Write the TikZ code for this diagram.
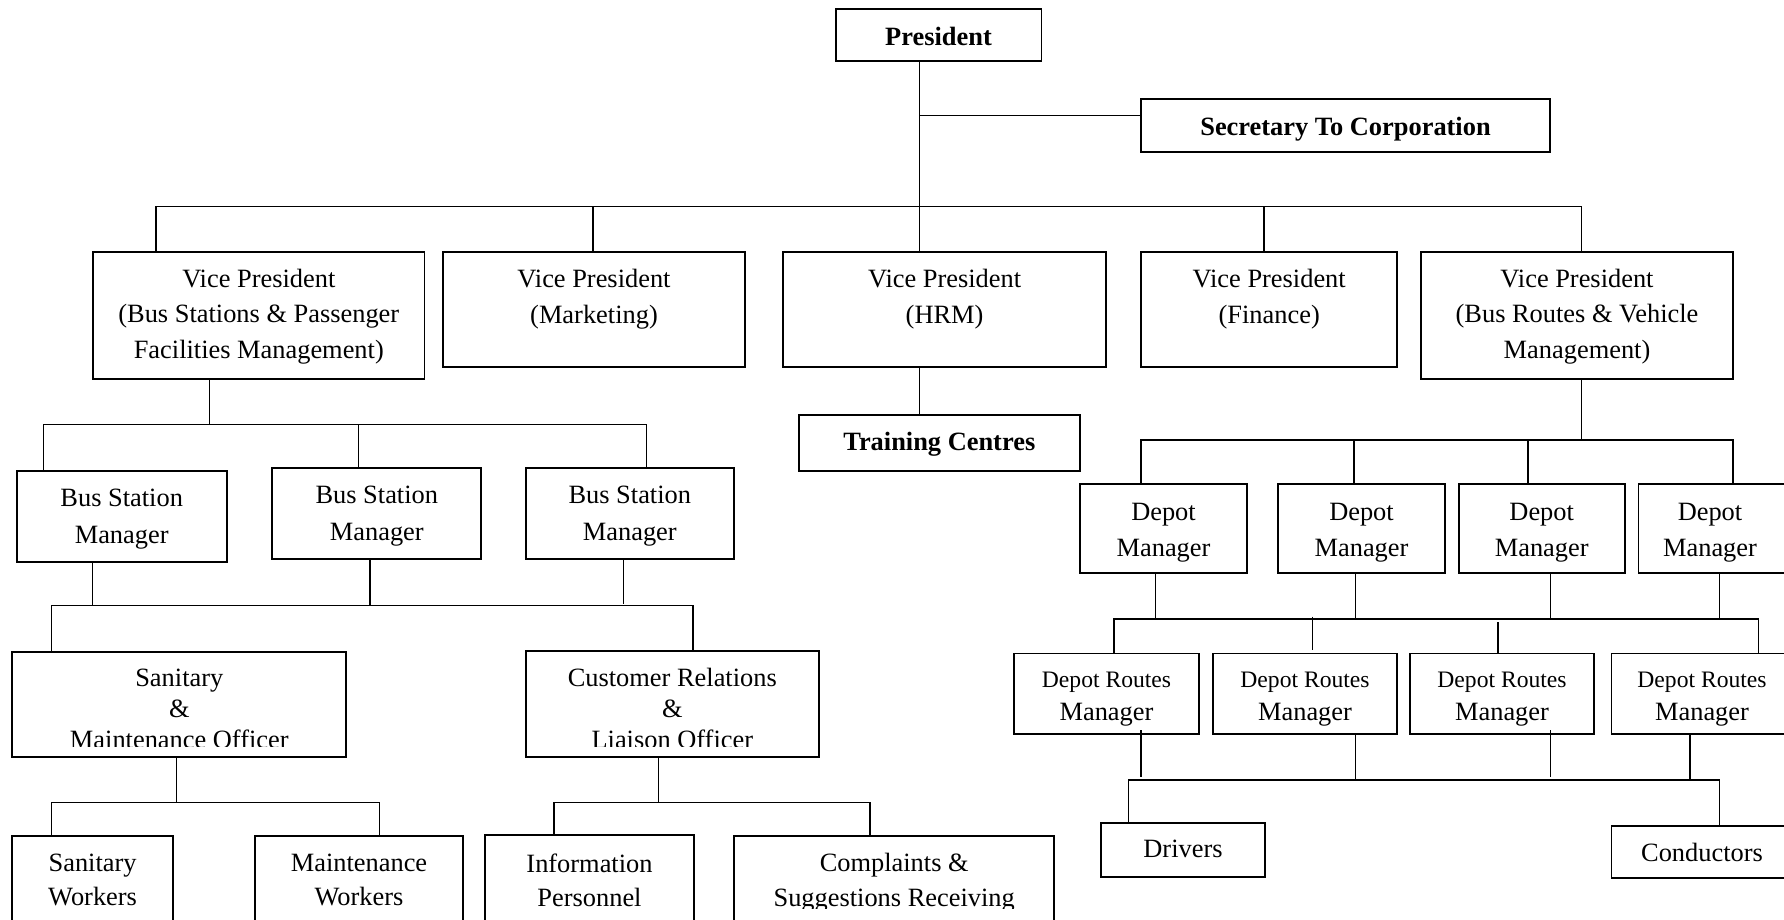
\documentclass[tikz,border=0pt]{standalone}
\usepackage{fontspec}
\setmainfont{Liberation Serif}
\usetikzlibrary{fit}
% one box of the chart: name, left, top, right, bottom
\newcommand\orgbox[5]{\node[box, fit={(#2,#3)(#4,#5)}] (#1) {};}
\begin{document}
\begin{tikzpicture}[x=1pt, y=-1pt,
  box/.style={draw, line width=1.8pt, inner sep=0pt},
  link/.style={line width=1.5pt},
  txt/.style={font=\fontsize{26.4}{#1}\selectfont, align=center, inner sep=0pt},
  txt/.default=36,
  head/.style={font=\fontsize{26.4}{30}\selectfont\bfseries, inner sep=0pt}]
\useasboundingbox (0,0) rectangle (1784,920);
\clip (0,0) rectangle (1784,920);
\fill[white] (0,0) rectangle (1784,920);

% ---------- boxes ----------
\orgbox{pres}{836}{9}{1041.5}{60.7}
\orgbox{sec}{1141.2}{99.3}{1549.7}{152}
\orgbox{vp1}{93.3}{252.3}{424.4}{379.3}
\orgbox{vp2}{442.6}{252}{745.3}{367}
\orgbox{vp3}{783.3}{252.3}{1106}{367}
\orgbox{vp4}{1141.2}{252}{1397.2}{367}
\orgbox{vp5}{1421.1}{252.3}{1732.9}{379.3}
\orgbox{train}{798.8}{415}{1079.8}{471}
\orgbox{bsm1}{16.7}{470.7}{226.7}{562}
\orgbox{bsm2}{272.3}{468.3}{481.3}{559.3}
\orgbox{bsm3}{525.7}{468.3}{733.9}{559.3}
\orgbox{smo}{12.3}{651.7}{346}{756.7}
\orgbox{crlo}{525.7}{651.3}{819}{756.7}
\orgbox{sw}{12}{836}{173.3}{960}
\orgbox{mw}{255.3}{836}{462.7}{960}
\orgbox{ip}{485}{835}{694}{960}
\orgbox{csr}{734.3}{836}{1054}{960}
\orgbox{dm1}{1080}{484.3}{1247}{573}
\orgbox{dm2}{1278}{484.3}{1445}{573}
\orgbox{dm3}{1458.6}{484.3}{1624.8}{573}
\orgbox{dm4}{1638.5}{484.3}{1800}{573}
\orgbox{drm1}{1014}{653.5}{1199}{734}
\orgbox{drm2}{1213}{653.5}{1397}{734}
\orgbox{drm3}{1410}{653.5}{1594}{734}
\orgbox{drm4}{1611.5}{653.5}{1800}{734}
\orgbox{drv}{1101}{823.3}{1265}{876.7}
\orgbox{cond}{1611.5}{826}{1800}{878.3}

% ---------- labels ----------
\node[head] (pres-t) at (938.5,36) {President};
\node[head] (sec-t) at (1345.5,129) {Secretary To Corporation};
\node[txt=35.5] (vp1-t) at (258.8,316.2) {Vice President\\(Bus Stations \& Passenger\\Facilities Management)};
\node[txt=35.5] (vp2-t) at (594,299) {Vice President\\(Marketing)};
\node[txt=35.5] (vp3-t) at (944.6,299) {Vice President\\(HRM)};
\node[txt=35.5] (vp4-t) at (1269.2,299) {Vice President\\(Finance)};
\node[txt=35.5] (vp5-t) at (1577,316.2) {Vice President\\(Bus Routes \& Vehicle\\Management)};
\node[head] (train-t) at (939.3,444) {Training Centres};
\node[txt=36.7] (bsm1-t) at (121.7,519) {Bus Station\\Manager};
\node[txt=36.7] (bsm2-t) at (376.8,516) {Bus Station\\Manager};
\node[txt=36.7] (bsm3-t) at (629.8,516) {Bus Station\\Manager};
\begin{scope}
  \clip (0,0) rectangle (1784,746.7);
  \node[txt=31] (smo-t) at (179.3,708.8) {Sanitary\\\&\\Maintenance Officer};
  \node[txt=31] (crlo-t) at (672.3,708.8) {Customer Relations\\\&\\Liaison Officer};
\end{scope}
\begin{scope}
  \clip (0,0) rectangle (1784,908.3);
  \node[txt=34.3] (sw-t) at (92.6,880) {Sanitary\\Workers};
  \node[txt=34.3] (mw-t) at (359,880) {Maintenance\\Workers};
  \node[txt=34.3] (ip-t) at (589.5,880) {Information\\Personnel};
  \node[txt=34.3] (csr-t) at (894.2,882.8) {Complaints \&\\Suggestions Receiving};
\end{scope}
\node[txt=35.3] (dm1-t) at (1163.5,532.8) {Depot\\Manager};
\node[txt=35.3] (dm2-t) at (1361.5,532.8) {Depot\\Manager};
\node[txt=35.3] (dm3-t) at (1541.7,532.8) {Depot\\Manager};
\node[txt=35.3] (dm4-t) at (1710,532.8) {Depot\\Manager};
\node[txt=33.5] (drm1-t) at (1106.5,698.9) {{\fontsize{23.6}{33.5}\selectfont Depot Routes}\\Manager};
\node[txt=33.5] (drm2-t) at (1305,698.9) {{\fontsize{23.6}{33.5}\selectfont Depot Routes}\\Manager};
\node[txt=33.5] (drm3-t) at (1502,698.9) {{\fontsize{23.6}{33.5}\selectfont Depot Routes}\\Manager};
\node[txt=33.5] (drm4-t) at (1702,698.9) {{\fontsize{23.6}{33.5}\selectfont Depot Routes}\\Manager};
\node[txt] (drv-t) at (1183,849.3) {Drivers};
\node[txt] (cond-t) at (1702,852.7) {Conductors};

% ---------- connectors ----------
% president, secretary and the vice presidents
\coordinate (sec-j) at (919.5,115.3);
\draw[link] (pres.south -| 919.5,0) -- (vp3.north -| 919.5,0);
\draw[link] (sec-j) -- (sec.west |- sec-j);
\draw[link] (vp1.north -| 155.9,0) -- (155.9,206.7) -- (1581.5,206.7) -- (vp5.north -| 1581.5,0);
\draw[link] (vp2.north -| 592.8,0) -- (592.8,206.7);
\draw[link] (vp4.north -| 1264,0) -- (1264,206.7);
\draw[link] (vp3.south -| 919.5,0) -- (train.north -| 919.5,0);

% bus stations branch
\draw[link] (vp1.south -| 209.7,0) -- (209.7,424.3);
\draw[link] (bsm1.north -| 43.3,0) -- (43.3,424.3) -- (646.3,424.3) -- (bsm3.north -| 646.3,0);
\draw[link] (bsm2.north -| 358.4,0) -- (358.4,424.3);
\draw[link] (bsm1.south -| 92.7,0) -- (92.7,605.7);
\draw[link] (bsm2.south -| 369.8,0) -- (369.8,605.7);
\draw[link] (bsm3.south -| 623.5,0) -- (623.5,603.5);
\draw[link] (smo.north -| 51.7,0) -- (51.7,605.7) -- (692.9,605.7) -- (crlo.north -| 692.9,0);
\draw[link] (smo.south -| 176.4,0) -- (176.4,802.3);
\draw[link] (sw.north -| 51.3,0) -- (51.3,802.3) -- (379.6,802.3) -- (mw.north -| 379.6,0);
\draw[link] (crlo.south -| 658.7,0) -- (658.7,802.3);
\draw[link] (ip.north -| 554,0) -- (554,802.3) -- (870,802.3) -- (csr.north -| 870,0);

% bus routes branch
\draw[link] (vp5.south -| 1581.5,0) -- (1581.5,440);
\draw[link] (dm1.north -| 1141.2,0) -- (1141.2,440) -- (1733,440) -- (dm4.north -| 1733,0);
\draw[link] (dm2.north -| 1354,0) -- (1354,440);
\draw[link] (dm3.north -| 1528,0) -- (1528,440);
\draw[link] (dm1.south -| 1155.3,0) -- (1155.3,619);
\draw[link] (dm2.south -| 1355.3,0) -- (1355.3,619);
\draw[link] (dm3.south -| 1550.5,0) -- (1550.5,619);
\draw[link] (dm4.south -| 1719.3,0) -- (1719.3,619);
\draw[link] (drm1.north -| 1114,0) -- (1114,619) -- (1758.5,619) -- (drm4.north -| 1758.5,0);
\coordinate (drm2-up) at (1312.3,616.7);
\coordinate (drm2-dn) at (1312.3,649.5);
\draw[link] (drm2-up) -- (drm2-dn);
\coordinate (drm3-up) at (1498,622);
\draw[link] (drm3-up) -- (drm3.north -| drm3-up);
\coordinate (drm1-in) at (1141,730);
\coordinate (drm1-end) at (1141,776.7);
\draw[link] (drm1-in) -- (drm1-end);
\draw[link] (drm2.south -| 1355.3,0) -- (1355.3,780);
\coordinate (drm3-in) at (1550.5,730);
\coordinate (drm3-end) at (1550.5,776.5);
\draw[link] (drm3-in) -- (drm3-end);
\draw[link] (drm4.south -| 1690,0) -- (1690,780);
\draw[link] (drv.north -| 1128.7,0) -- (1128.7,780) -- (1719.3,780) -- (cond.north -| 1719.3,0);
\end{tikzpicture}
\end{document}
